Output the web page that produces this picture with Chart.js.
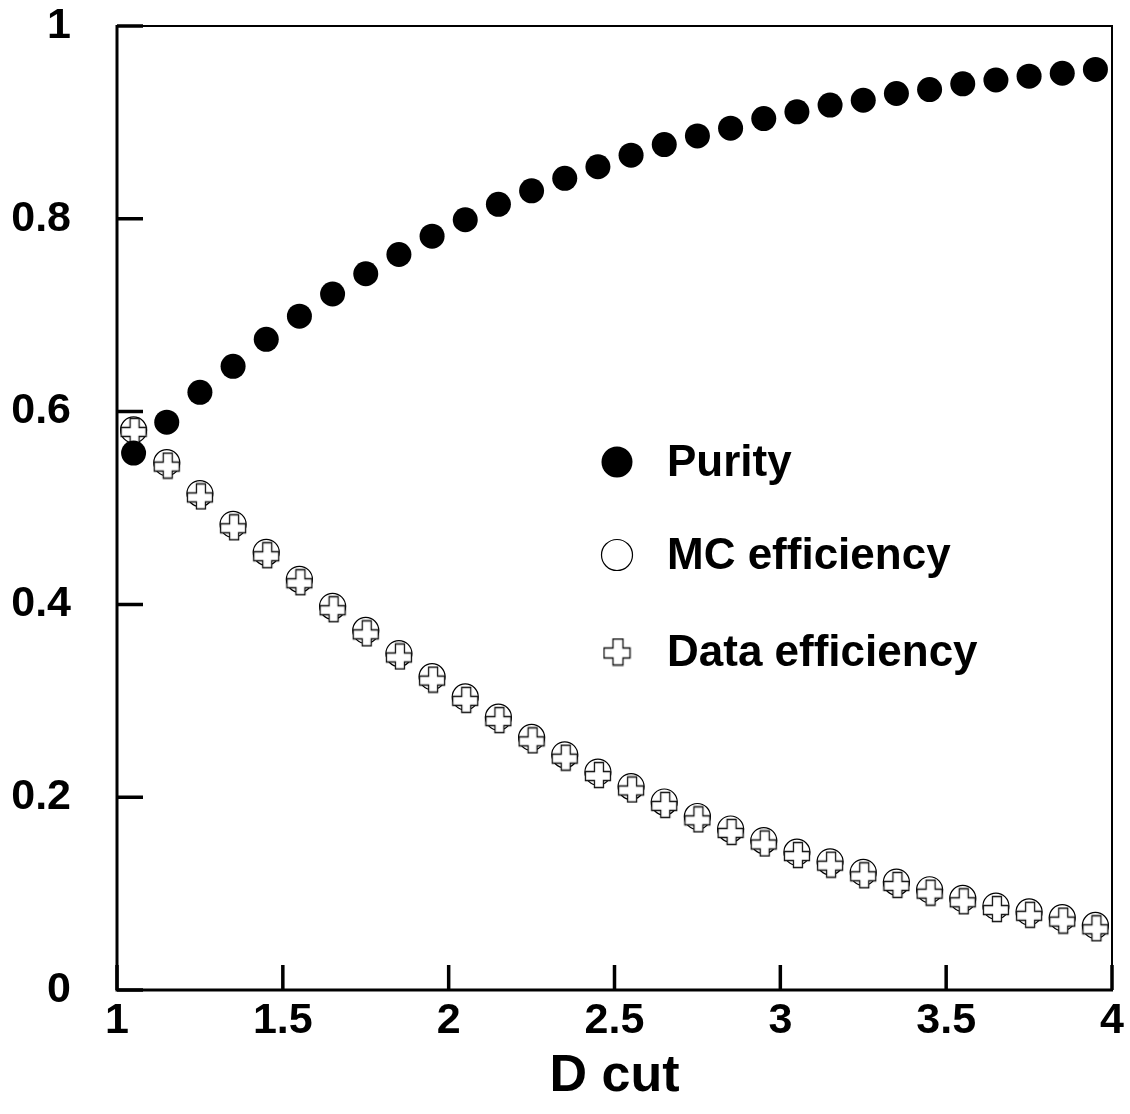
<!DOCTYPE html>
<html><head><meta charset="utf-8">
<script src="https://cdn.jsdelivr.net/npm/chart.js@4.4.1/dist/chart.umd.min.js"></script>
<style>html,body{margin:0;padding:0;background:#fff;overflow:hidden}#wrap{width:1130px;height:1114px}</style>
</head><body><div id="wrap"><canvas id="c" width="1130" height="1114"></canvas></div>
<script>
const dCut = [1.05,1.15,1.25,1.35,1.45,1.55,1.65,1.75,1.85,1.95,2.05,2.15,2.25,2.35,2.45,2.55,2.65,2.75,2.85,2.95,3.05,3.15,3.25,3.35,3.45,3.55,3.65,3.75,3.85,3.95];
const purity = [0.557,0.589,0.620,0.647,0.675,0.699,0.722,0.743,0.763,0.782,0.799,0.815,0.829,0.842,0.854,0.866,0.877,0.886,0.894,0.904,0.911,0.918,0.923,0.930,0.934,0.940,0.944,0.948,0.951,0.955];
const mcEff = [0.581,0.547,0.515,0.483,0.454,0.426,0.398,0.373,0.349,0.325,0.304,0.283,0.262,0.244,0.226,0.211,0.195,0.180,0.167,0.155,0.143,0.133,0.122,0.112,0.104,0.095,0.087,0.081,0.075,0.067];
const dataEff = [0.580,0.544,0.512,0.480,0.451,0.423,0.395,0.370,0.346,0.322,0.301,0.280,0.259,0.241,0.223,0.208,0.192,0.177,0.164,0.152,0.140,0.130,0.119,0.109,0.101,0.092,0.084,0.078,0.072,0.064];
const seriesNames = ['Purity','MC efficiency','Data efficiency'];
const xTickValues = [1,1.5,2,2.5,3,3.5,4];
const xTickLabels = ['1','1.5','2','2.5','3','3.5','4'];
const yTickValues = [0,0.2,0.4,0.6,0.8,1];
const yTickLabels = ['0','0.2','0.4','0.6','0.8','1'];
const xTitle = 'D cut';

const FONT = "'Liberation Sans', Arial, Helvetica, sans-serif";

function makeCross(size, arm) {
  const c = document.createElement('canvas');
  c.width = size + 2; c.height = size + 2;
  const g = c.getContext('2d');
  const o = 1, a = (size - arm) / 2;
  g.translate(o + 0.5, o + 0.5);
  const s = size - 1;
  const a1 = Math.round(a), a2 = Math.round(a + arm);
  g.beginPath();
  g.moveTo(a1, 0); g.lineTo(a2, 0); g.lineTo(a2, a1); g.lineTo(s, a1); g.lineTo(s, a2);
  g.lineTo(a2, a2); g.lineTo(a2, s); g.lineTo(a1, s); g.lineTo(a1, a2); g.lineTo(0, a2);
  g.lineTo(0, a1); g.lineTo(a1, a1); g.closePath();
  g.fillStyle = '#fff'; g.fill();
  g.strokeStyle = '#111'; g.lineWidth = 1.3; g.stroke();
  return c;
}
const crossImg = makeCross(26, 9);
const crossLegend = makeCross(27, 10);

function pts(ys) { return dCut.map((x, i) => ({x: x, y: ys[i]})); }

const framePlugin = {
  id: 'frame',
  beforeDatasetsDraw(chart) {
    const {ctx, chartArea: {left, right, top, bottom}, scales: {x, y}} = chart;
    ctx.save();
    ctx.strokeStyle = '#000';
    ctx.lineWidth = 2;
    ctx.beginPath();
    ctx.moveTo(left, top); ctx.lineTo(right, top); ctx.lineTo(right, bottom);
    ctx.stroke();
    ctx.lineWidth = 3;
    ctx.beginPath();
    ctx.moveTo(left, top - 1); ctx.lineTo(left, bottom); ctx.lineTo(right + 1, bottom);
    ctx.stroke();
    ctx.lineWidth = 3.5;
    ctx.beginPath();
    xTickValues.forEach(v => { const p = x.getPixelForValue(v); ctx.moveTo(p, bottom); ctx.lineTo(p, bottom - 25); });
    yTickValues.forEach(v => { const p = y.getPixelForValue(v); ctx.moveTo(left, p); ctx.lineTo(left + 26, p); });
    ctx.stroke();
    ctx.restore();
  },
  afterDraw(chart) {
    const ctx = chart.ctx;
    ctx.save();
    const mx = 617, tx = 667;
    const rows = [462, 555, 652];
    ctx.fillStyle = '#000';
    ctx.beginPath(); ctx.arc(mx, rows[0], 15.5, 0, Math.PI * 2); ctx.fill();
    ctx.strokeStyle = '#000'; ctx.lineWidth = 1.2; ctx.fillStyle = '#fff';
    ctx.beginPath(); ctx.arc(mx, rows[1], 15.5, 0, Math.PI * 2); ctx.fill(); ctx.stroke();
    ctx.drawImage(crossLegend, mx - crossLegend.width / 2, rows[2] - crossLegend.height / 2);
    ctx.fillStyle = '#000';
    ctx.font = 'bold 44px ' + FONT;
    ctx.textBaseline = 'middle';
    ctx.textAlign = 'left';
    seriesNames.forEach((n, i) => ctx.fillText(n, tx, rows[i] + 2));
    ctx.restore();
  }
};

function noPad(s) { s.paddingTop = 0; s.paddingBottom = 0; s.paddingLeft = 0; s.paddingRight = 0; }

new Chart(document.getElementById('c'), {
  type: 'scatter',
  data: {
    datasets: [
      {label: seriesNames[0], data: pts(purity), order: 0, pointStyle: 'circle', pointRadius: 12.5,
       backgroundColor: '#000', borderColor: '#000', borderWidth: 0, showLine: false},
      {label: seriesNames[2], data: pts(dataEff), order: 1, pointStyle: crossImg, pointRadius: 13,
       showLine: false},
      {label: seriesNames[1], data: pts(mcEff), order: 2, pointStyle: 'circle', pointRadius: 13,
       backgroundColor: '#fff', borderColor: '#000', borderWidth: 1.2, showLine: false}
    ]
  },
  options: {
    responsive: false, animation: false, devicePixelRatio: 1,
    layout: {padding: {top: 26, right: 18, left: 0, bottom: 0}},
    plugins: {legend: {display: false}, tooltip: {enabled: false}},
    events: [],
    scales: {
      x: {
        type: 'linear', position: 'bottom', min: 1, max: 4,
        afterFit(s) { s.height = 124; noPad(s); },
        afterBuildTicks(s) { s.ticks = xTickValues.map(v => ({value: v})); },
        grid: {display: false, drawTicks: false}, border: {display: false},
        ticks: {callback: (v, i) => xTickLabels[i], color: '#000', padding: 5,
                font: {family: FONT, size: 43, weight: 'bold'}, maxRotation: 0, autoSkip: false},
        title: {display: true, text: xTitle, color: '#000', padding: {top: 0, bottom: 6},
                font: {family: FONT, size: 52, weight: 'bold'}}
      },
      y: {
        type: 'linear', position: 'left', min: 0, max: 1,
        afterFit(s) { s.width = 117; noPad(s); },
        afterBuildTicks(s) { s.ticks = yTickValues.map(v => ({value: v})); },
        grid: {display: false, drawTicks: false}, border: {display: false},
        ticks: {callback: (v, i) => yTickLabels[i], color: '#000', padding: 46,
                font: {family: FONT, size: 43, weight: 'bold'}, autoSkip: false}
      }
    }
  },
  plugins: [framePlugin]
});
</script></body></html>
